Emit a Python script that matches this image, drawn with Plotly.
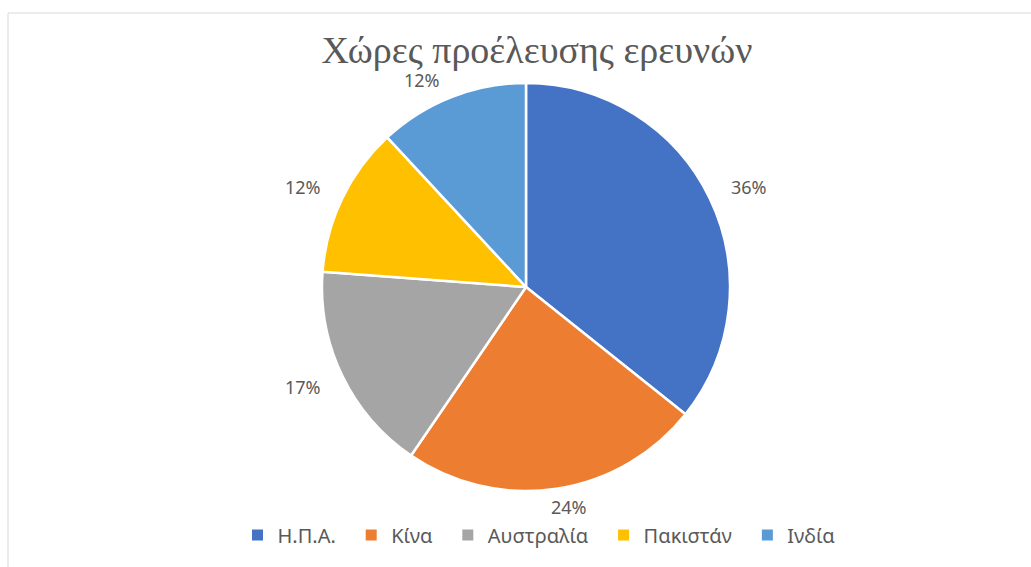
import numpy as np
import plotly.graph_objects as go

# Countries of origin and number of studies per country
countries = ["Η.Π.Α.", "Κίνα", "Αυστραλία", "Πακιστάν", "Ινδία"]
studies = [15, 10, 7, 5, 5]
colors = ["#4472C4", "#ED7D31", "#A5A5A5", "#FFC000", "#5B9BD5"]

W, H = 1031, 567
CX, CY, R = 526, 287, 204  # pie centre and radius in pixels
TEXT_GRAY = "#595959"

fig = go.Figure()
fig.add_trace(
    go.Pie(
        labels=countries,
        values=studies,
        sort=False,
        direction="clockwise",
        rotation=0,
        marker=dict(colors=colors, line=dict(color="white", width=2.5)),
        textinfo="none",
        showlegend=False,
        domain=dict(x=[(CX - R) / W, (CX + R) / W],
                    y=[1 - (CY + R) / H, 1 - (CY - R) / H]),
        hoverinfo="label+percent",
    )
)

# Percentage labels outside each slice: anchor point just beyond the rim at
# the slice's mid angle, then offset the text box away from the pie.
vals = np.array(studies, dtype=float)
shares = vals / vals.sum()
ends = np.cumsum(shares) * 2 * np.pi
mids = ends - shares * np.pi
half_w, half_h, gap = 28, 6, 12
for share, a in zip(shares, mids):
    s, c = np.sin(a), np.cos(a)
    px = CX + (R + gap) * s + half_w * np.clip(2.5 * s, -1, 1)
    py = CY - (R + gap) * c - half_h * np.clip(2.5 * c, -1, 1)
    fig.add_annotation(
        x=px / W,
        y=1 - py / H,
        xref="paper",
        yref="paper",
        text=f"{share:.0%}",
        showarrow=False,
        xanchor="center",
        yanchor="middle",
        font=dict(family="Noto Sans", size=18, color=TEXT_GRAY),
    )

# Legend entries with square swatches
for name, col in zip(countries, colors):
    fig.add_trace(
        go.Scatter(
            x=[None],
            y=[None],
            mode="markers",
            name=name + "\u00a0\u00a0",
            marker=dict(symbol="square", size=11, color=col),
            showlegend=True,
            hoverinfo="skip",
        )
    )

fig.update_layout(
    width=W,
    height=H,
    margin=dict(l=0, r=0, t=0, b=0),
    paper_bgcolor="white",
    plot_bgcolor="white",
    xaxis=dict(visible=False),
    yaxis=dict(visible=False),
    title=dict(
        text="Χώρες προέλευσης ερευνών",
        font=dict(family="Liberation Serif", size=38, color=TEXT_GRAY),
        x=537 / W,
        xanchor="center",
        y=1 - 50 / H,
        yanchor="middle",
    ),
    legend=dict(
        orientation="h",
        x=544 / W,
        xanchor="center",
        y=1 - 535 / H,
        yanchor="middle",
        font=dict(family="Noto Sans", size=20, color=TEXT_GRAY),
        itemwidth=30,
        traceorder="normal",
    ),
    shapes=[
        dict(
            type="rect",
            xref="paper",
            yref="paper",
            x0=8 / W,
            x1=1.01,
            y0=-0.01,
            y1=1 - 13 / H,
            line=dict(color="#D9D9D9", width=1),
            fillcolor="rgba(0,0,0,0)",
            layer="below",
        )
    ],
)

fig.write_html("out.html")
